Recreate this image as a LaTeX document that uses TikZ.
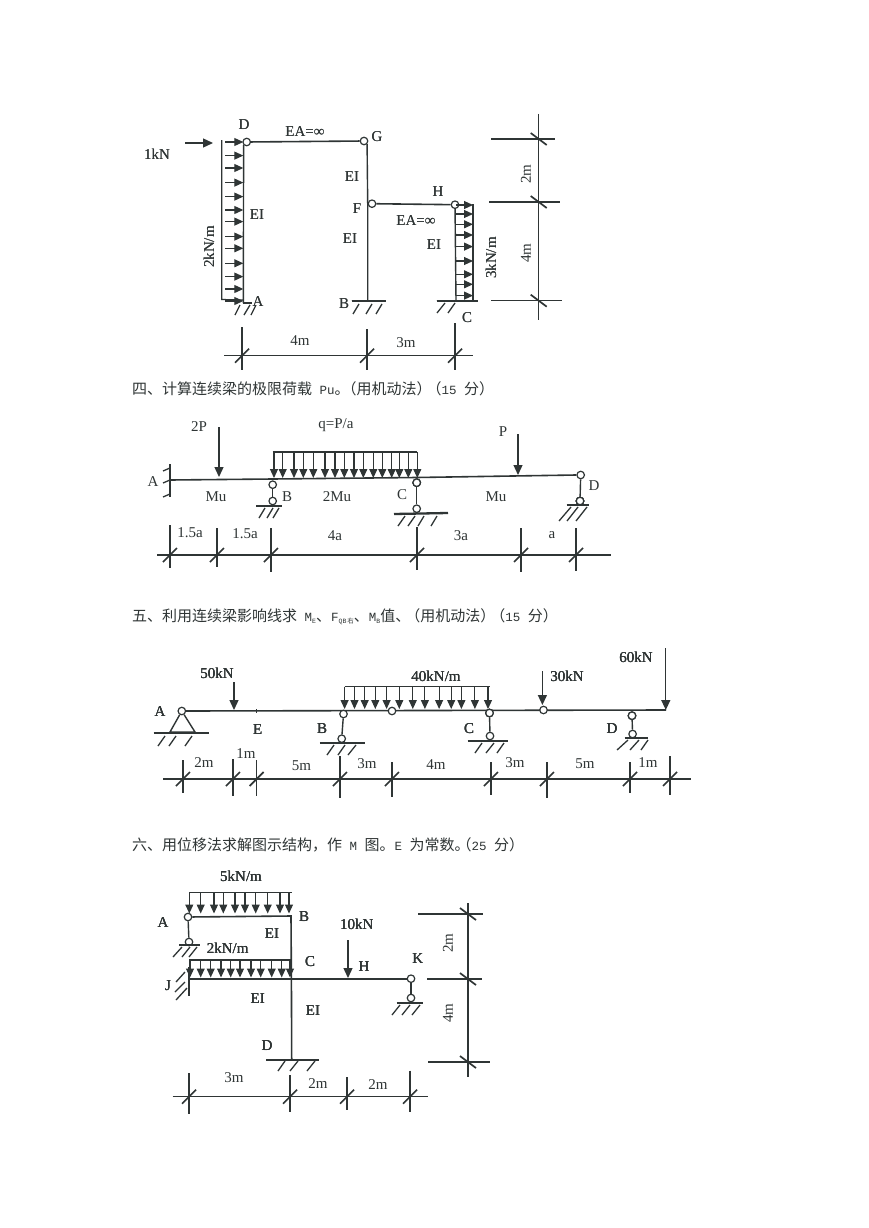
\documentclass[tikz,border=0pt]{standalone}
\usepackage{fontspec}
\setmainfont{Liberation Serif}
\newfontfamily\cjkf{Noto Sans CJK SC}
\newfontfamily\monof{Liberation Mono}
\usetikzlibrary{arrows.meta}
\definecolor{ink}{HTML}{2F3535}
\newcommand{\lbl}[4]{\node[lab] (#1) at (#2,#3) {#4};}
\newcommand{\lblr}[4]{\node[lab,rotate=90] (#1) at (#2,#3) {#4};}
\newcommand{\headline}[3]{\node[headtext] (#1) at (132,#2) {#3};}
\newcommand{\mon}[1]{{\fontsize{12.5}{15}\selectfont\monof #1}}
\newcommand{\subm}[1]{\raisebox{-2pt}{\fontsize{6.5}{7}\selectfont\monof #1}}
% vertical witness line with slash: x, y-top, y-bottom, y-of-dimension-line
\newcommand{\dimv}[4]{\draw[dimline] (#1,#2) -- (#1,#3); \draw[slash] (#1-7,#4+7) -- (#1+7,#4-7);}
% horizontal witness line with slash: y, x-left, x-right, x-of-dimension-line
\newcommand{\dimh}[4]{\draw[dimline] (#2,#1) -- (#3,#1); \draw[slash] (#4-8,#1-6) -- (#4+8,#1+6);}
% one hatch stroke of a ground line
\newcommand{\hstroke}[3]{\draw[hatch] (#1,#3) -- (#2,#3+10);}
\tikzset{
  every node/.style={text=ink},
  lab/.style={font=\fontsize{15}{17}\selectfont,inner sep=0pt},
  headtext/.style={anchor=west,inner sep=0pt,font=\fontsize{15}{18}\selectfont\cjkf},
  beam/.style={draw=ink,line width=1.6pt},
  thin member/.style={draw=ink,line width=1.4pt},
  base/.style={draw=ink,line width=2.3pt},
  hatch/.style={draw=ink,line width=1.3pt},
  dimline/.style={draw=ink,line width=1.1pt},
  slash/.style={draw=ink,line width=1.7pt},
  loadline/.style={draw=ink,line width=1.2pt},
  load/.style={draw=ink,line width=1.1pt,-{Triangle[length=9pt,width=8pt]}},
  force/.style={draw=ink,line width=1.3pt,-{Triangle[length=10pt,width=9pt]}},
  hinge/.style={circle,draw=ink,fill=white,inner sep=0pt,minimum size=7.5pt,line width=1.2pt},
}
\begin{document}
\begin{tikzpicture}[x=1pt,y=-1pt]
\path[use as bounding box,fill=white] (0,0) rectangle (869,1228);

%%%%%%%%%% Frame
\coordinate (A1) at (243.3,303);
\coordinate (B1) at (367.7,301);
\coordinate (C1) at (456,301);
\coordinate (F1c) at (367.7,203.7);
\node[hinge] (D1) at (246.7,142) {};
\node[hinge] (G1) at (364,141) {};
\node[hinge] (F1) at (372,203.7) {};
\node[hinge] (H1) at (455,204.7) {};
\draw[beam] (D1) -- (G1);
\draw[beam] (F1) -- (H1);
\draw[thin member] (D1.south west) -- (A1);
\draw[thin member] (G1.south east) -- (F1c) -- (B1);
\draw[thin member] (H1) -- (C1);
% left load
\draw[loadline] (221.7,140) -- (221.7,299.5) -- (243.3,300);
\foreach \y in {142,155.6,168,182.6,196.6,210,221.6,236.6,248.3,263.3,276.6,289,301}
  \draw[load] (225,\y) -- (243.3,\y);
\draw[force] (185,143) -- (213,143);
% right load
\draw[loadline] (473,204) -- (473,300);
\foreach \y in {205,214,224.3,235,246.6,261,274.3,284.3,295.6}
  \draw[load] (456,\y) -- (473,\y);
% bases
\draw[base] (243,303) -- (252,303);
\foreach \a/\b in {240/235,250/244,256/251} \hstroke{\a}{\b}{305}
\draw[base] (351.7,301) -- (386,301);
\foreach \a/\b in {359/353,372/366,382/376} \hstroke{\a}{\b}{304}
\draw[base] (436.7,300.7) -- (478,300.7);
\foreach \a/\b in {445/437,455/448} \hstroke{\a}{\b}{303}
\lbl{t1}{157}{154}{1kN}
\lbl{t2}{244}{125}{D}
\lbl{t3}{305}{132}{EA=∞}
\lbl{t4}{377}{137}{G}
\lbl{t5}{352}{177}{EI}
\lbl{t6}{357}{209}{F}
\lbl{t7}{350}{239}{EI}
\lbl{t8}{438}{192}{H}
\lbl{t9}{416}{220.7}{EA=∞}
\lbl{t10}{434}{245}{EI}
\lbl{t11}{257}{215}{EI}
\lbl{t12}{258}{302}{A}
\lbl{t13}{344}{304}{B}
\lbl{t14}{467}{318}{C}
\lblr{t15}{209}{247}{2kN/m}
\lblr{t16}{491}{258}{3kN/m}
% bottom dims
\draw[dimline] (224,355.7) -- (473,355.7);
\dimv{242}{327}{370}{355.7}
\dimv{367}{329}{370}{355.7}
\dimv{455}{323}{370}{355.7}
\lbl{t17}{300}{341}{4m}
\lbl{t18}{406}{343}{3m}
% right dims
\draw[dimline] (538.7,114) -- (538.7,320);
\dimh{139}{491}{555}{538.7}
\dimh{202}{489}{560}{538.7}
\dimh{300.7}{491}{562}{538.7}
\lblr{t19}{526}{174}{2m}
\lblr{t20}{526}{253}{4m}

\headline{h4}{389}{四、计算连续梁的极限荷载\mon{ Pu}。\hspace{-8pt}（用机动法）\hspace{-5pt}（\mon{15 }分）}

%%%%%%%%%% Beam 2
\coordinate (A2) at (170,480);
\coordinate (B2c) at (272.7,479);
\coordinate (C2c) at (416.7,477.5);
\node[hinge] (D2) at (580.7,475) {};
\draw[beam] (A2) -- (B2c) -- (C2c) -- (D2.west);
\draw[base] (170,464) -- (170,497);
\foreach \y in {468,480,494} \draw[hatch] (170,\y) -- (163,\y+3);
\draw[force] (219,427) -- (219,477);
\draw[force] (518,434) -- (518,475);
\draw[loadline] (272.7,452) -- (417,452);
\foreach \x in {274,282.7,294,303.3,313.3,325,335,344.3,354,363.3,373.3,382.3,391.7,399.3,408.3,417.3}
  \draw[load] (\x,452) -- (\x,478);
% support B
\node[hinge] (B2u) at (272.7,484.7) {};
\node[hinge] (B2d) at (272.7,501) {};
\draw[thin member] (B2u) -- (B2d);
\draw[base] (256,506) -- (281.7,506);
\foreach \a/\b in {265/259,273/267,279/273} \hstroke{\a}{\b}{508}
% support C
\node[hinge] (C2u) at (416.7,482.7) {};
\node[hinge] (C2d) at (416.7,508.7) {};
\draw[thin member] (C2u) -- (C2d);
\draw[base] (394,514) -- (448,513);
\foreach \a/\b in {405/398,415/408,424/418,437/431} \hstroke{\a}{\b}{516}
% support D
\node[hinge] (D2d) at (580,501) {};
\draw[thin member] (D2) -- (D2d);
\draw[base] (566.7,505) -- (589,505);
\foreach \a/\b in {571/559,578/567,587/576} \draw[hatch] (\a,507) -- (\b,521);
\lbl{p1}{153}{482}{A}
\lbl{p2}{199}{427}{2P}
\lbl{p3}{336}{425}{q=P/a}
\lbl{p4}{503}{432}{P}
\lbl{p5}{216}{497}{Mu}
\lbl{p6}{287}{497}{B}
\lbl{p7}{337}{497}{2Mu}
\lbl{p8}{402}{495}{C}
\lbl{p9}{496}{497}{Mu}
\lbl{p10}{594}{486}{D}
\draw[dimline] (157,555) -- (611,555);
\dimv{170}{525}{568}{555}
\dimv{217}{528}{567}{555}
\dimv{271}{528}{572}{555}
\dimv{417}{527}{570}{555}
\dimv{521}{528}{572}{555}
\dimv{576}{528}{571}{555}
\lbl{p11}{190}{533}{1.5a}
\lbl{p12}{245}{534}{1.5a}
\lbl{p13}{335}{536}{4a}
\lbl{p14}{461}{536}{3a}
\lbl{p15}{552}{535}{a}

\headline{h5}{616.7}{五、利用连续梁影响线求\mon{ M}\subm{E}、\mon{F}\subm{QB\,}{\fontsize{6.5}{7}\selectfont\raisebox{-2pt}{右}}、\mon{M}\subm{B}值、\hspace{-5pt}（用机动法）\hspace{-5pt}（\mon{15 }分）}

%%%%%%%%%% Beam 3
\node[hinge] (A3) at (181.8,711) {};
\coordinate (R3) at (666,710);
\draw[beam] (A3) -- (R3);
\draw[thin member] (A3) -- (170,732) -- (195,732) -- (A3);
\draw[base] (153.7,733) -- (208.5,733);
\foreach \a/\b in {165/158,176/169,192/185} \hstroke{\a}{\b}{736}
\draw[thin member] (256.6,709) -- (256.6,713);
\draw[force] (234,682) -- (234,710);
\draw[force] (542.4,671) -- (542.4,705);
\draw[force] (665.8,648) -- (665.8,710);
\draw[loadline] (344.6,686.7) -- (489.5,686.7);
\foreach \x in {344.6,354.5,364.7,375.3,386.6,399.3,412.8,424.9,439.1,451.2,461.4,474.9,488}
  \draw[load] (\x,686.7) -- (\x,709);
\node[hinge] (M3) at (392,711) {};
\node[hinge] (J3) at (543.5,710) {};
% support B
\node[hinge] (B3u) at (343.5,714) {};
\node[hinge] (B3d) at (341.7,738.7) {};
\draw[thin member] (B3u) -- (B3d);
\draw[base] (319.8,742.7) -- (364.7,742.7);
\foreach \a/\b in {334/327,345/338,356/348} \hstroke{\a}{\b}{745}
% support C
\node[hinge] (C3u) at (489.5,713) {};
\node[hinge] (C3d) at (490,736) {};
\draw[thin member] (C3u) -- (C3d);
\draw[base] (467.6,741) -- (507.7,741);
\foreach \a/\b in {482/475,494/486,504/497} \hstroke{\a}{\b}{743}
% support D
\node[hinge] (D3u) at (632,715.7) {};
\node[hinge] (D3d) at (632.6,734) {};
\draw[thin member] (D3u) -- (D3d);
\draw[base] (624.5,738) -- (648,738);
\foreach \a/\b in {628/617,639/630,648/641} \hstroke{\a}{\b}{740}
\lbl{q1}{160}{711.7}{A}
\lbl{q2}{217}{673}{50kN}
\lbl{q3}{257.7}{730}{E}
\lbl{q4}{322}{729}{B}
\lbl{q5}{436}{676}{40kN/m}
\lbl{q6}{469}{729}{C}
\lbl{q7}{567}{676.7}{30kN}
\lbl{q8}{612}{729}{D}
\lbl{q9}{636}{657}{60kN}
\draw[dimline] (163,779) -- (691,779);
\dimv{183}{760}{793}{779}
\dimv{233}{759}{796}{779}
\dimv{256.6}{760}{796}{779}
\dimv{340}{756}{798}{779}
\dimv{392}{762}{797}{779}
\dimv{491}{762}{795}{779}
\dimv{547}{762}{798}{779}
\dimv{630}{762}{793}{779}
\dimv{670}{756}{795}{779}
\lbl{q10}{204}{763}{2m}
\lbl{q11}{246}{754}{1m}
\lbl{q12}{301.5}{766}{5m}
\lbl{q13}{367}{764}{3m}
\lbl{q14}{436}{765}{4m}
\lbl{q15}{515}{763}{3m}
\lbl{q16}{585}{764}{5m}
\lbl{q17}{648}{763}{1m}

\headline{h6}{845}{六、用位移法求解图示结构，作\mon{ M }图。\mon{E }为常数。\hspace{-13pt}（\mon{25 }分）}

%%%%%%%%%% Frame 4
\node[hinge] (A4) at (188,917) {};
\node[hinge] (A4d) at (189,942) {};
\node[hinge] (K4) at (411,978.7) {};
\node[hinge] (K4d) at (411,998) {};
\coordinate (B4) at (291,916);
\coordinate (C4) at (291.4,978.7);
\coordinate (D4) at (291.7,1059);
\coordinate (J4) at (189,978.7);
\draw[beam] (A4) -- (B4) -- (C4) -- (D4);
\draw[thin member] (A4) -- (A4d);
\draw[beam] (J4) -- (C4) -- (K4);
\draw[thin member] (K4) -- (K4d);
% UDL top
\draw[loadline] (189,892.7) -- (291.7,892.7);
\foreach \x in {189.3,200.7,214,223.3,235,245,255.7,267.7,280,289}
  \draw[load] (\x,892.7) -- (\x,913.5);
% UDL lower
\draw[loadline] (189,960) -- (291.7,960);
\foreach \x in {190,200.7,210.7,221,230.7,240,251,260.7,271.7,281.7,290}
  \draw[load] (\x,960) -- (\x,977.5);
\draw[force] (348,940) -- (348,978);
% A support
\draw[base] (179,945) -- (200,945);
\foreach \a/\b in {182/173,190/182,197/189} \hstroke{\a}{\b}{947}
% J wall
\draw[base] (189.3,966.7) -- (189.3,996);
\foreach \a/\b/\c/\d in {185/972/176/982,185/982/175/992,187/988/176/1000} \draw[hatch] (\a,\b) -- (\c,\d);
% K support
\draw[base] (396.7,1002.7) -- (422.7,1002.7);
\foreach \a/\b in {400/392,410/402,420/412} \hstroke{\a}{\b}{1005}
% D support
\draw[base] (266,1059.7) -- (319,1059.7);
\foreach \a/\b in {285/278,298/290,315/307} \hstroke{\a}{\b}{1061}
\lbl{r1}{241}{876.7}{5kN/m}
\lbl{r2}{163}{923}{A}
\lbl{r3}{304}{916.7}{B}
\lbl{r4}{272}{934}{EI}
\lbl{r5}{227.7}{948}{2kN/m}
\lbl{r6}{310}{961.7}{C}
\lbl{r7}{168}{986}{J}
\lbl{r8}{257.7}{999}{EI}
\lbl{r9}{313}{1010.7}{EI}
\lbl{r10}{267}{1046}{D}
\lbl{r11}{356.7}{924}{10kN}
\lbl{r12}{364}{966.7}{H}
\lbl{r13}{417.7}{959}{K}
\draw[dimline] (468,903) -- (468,1076.7);
\dimh{914}{418}{483}{468}
\dimh{979}{427}{482}{468}
\dimh{1062}{428}{490}{468}
\lblr{r14}{448}{943}{2m}
\lblr{r15}{448}{1013}{4m}
\draw[dimline] (172.7,1096.7) -- (428,1096.7);
\dimv{189}{1073}{1114}{1096.7}
\dimv{290}{1075}{1111.7}{1096.7}
\dimv{347}{1077}{1110}{1096.7}
\dimv{410}{1070.7}{1111.7}{1096.7}
\lbl{r16}{234}{1078}{3m}
\lbl{r17}{318}{1084}{2m}
\lbl{r18}{378}{1085}{2m}
\end{tikzpicture}
\end{document}
